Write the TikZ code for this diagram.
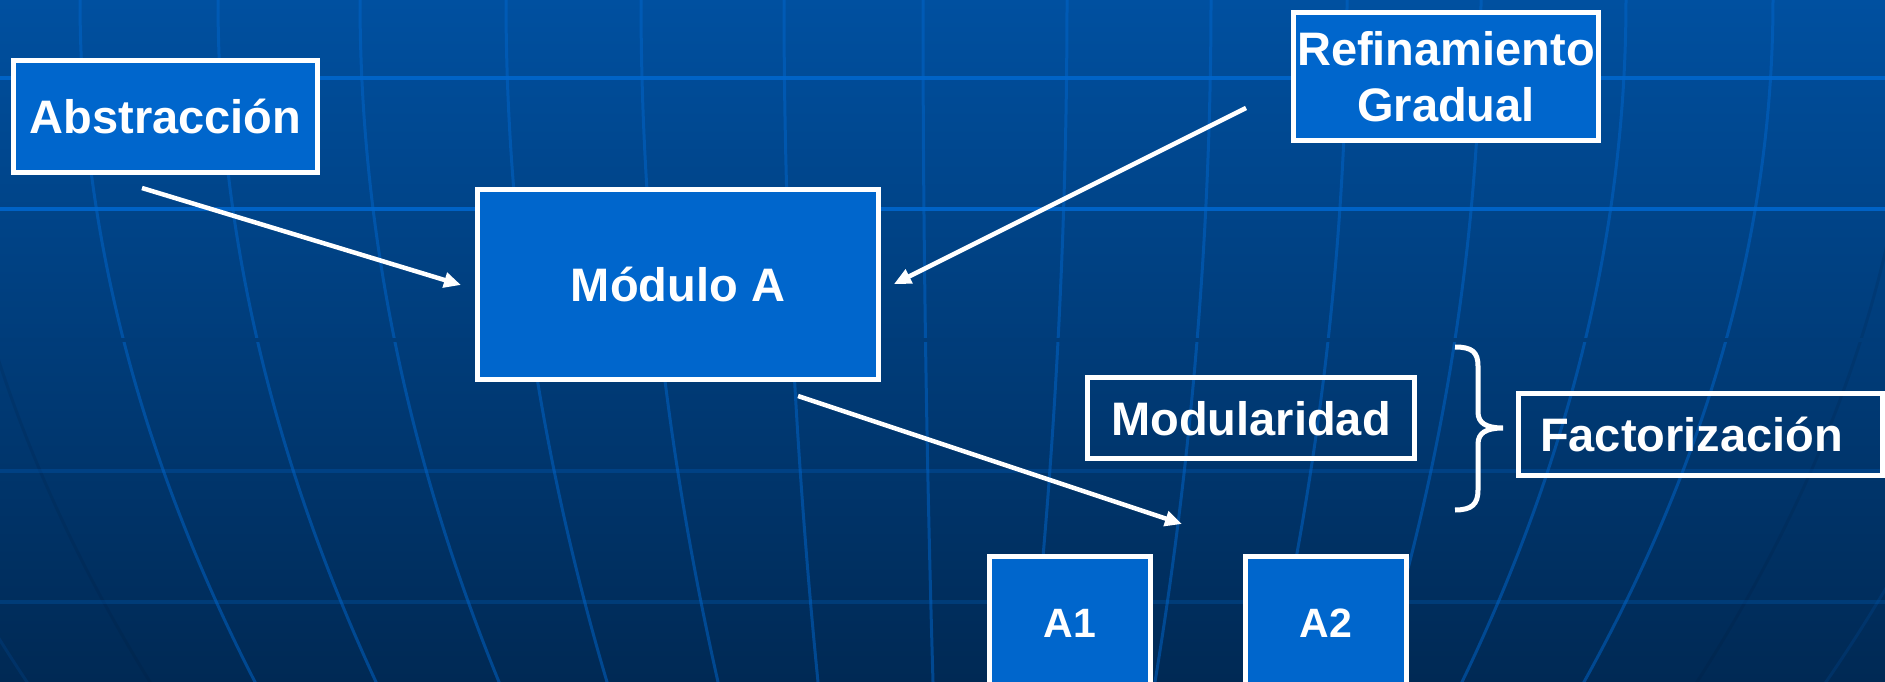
\documentclass[tikz,border=0pt]{standalone}
\usepackage{fontspec}
\setmainfont{Liberation Sans}
\usetikzlibrary{arrows.meta}

\definecolor{bgtop}{RGB}{0,80,160}
\definecolor{bgbot}{RGB}{0,41,84}
\definecolor{bgmid}{RGB}{0,60,121}
\definecolor{boxblue}{RGB}{0,102,204}
\definecolor{gridblue}{RGB}{0,102,204}
\definecolor{griddark}{RGB}{0,20,45}

\begin{document}
\begin{tikzpicture}[x=1pt,y=-1pt,
  frame/.style={draw=white, line width=5pt, rectangle, inner sep=0pt,
    text=white, font=\bfseries\fontsize{47}{56}\selectfont},
  oneline/.style={text height=34pt, text depth=0pt},
  filled/.style={fill=boxblue},
  smalltext/.style={font=\bfseries\fontsize{41}{48}\selectfont,
    text height=29pt, text depth=0pt},
  link/.style={draw=white, line width=4.5pt,
    -{Triangle[length=17pt,width=15pt]}},
  meridian/.style={draw=gridblue, draw opacity=0.5, line width=3pt},
  fadedmeridian/.style={draw=griddark, draw opacity=0.12, line width=3pt},
  paleline/.style={draw=gridblue, draw opacity=0.15, line width=3pt},
  brightrule/.style={draw=gridblue, draw opacity=0.9, line width=4pt},
  dimrule/.style={draw=gridblue, draw opacity=0.25, line width=4pt}]

\useasboundingbox (0,0) rectangle (1885,682);
\clip (0,0) rectangle (1885,682);

% backdrop
\shade[top color=bgtop, bottom color=bgbot] (0,0) rectangle (1885,682);

% curved meridian lines of the grid
\foreach \xa/\dd in {80/175, 218/158, 360/139, 506/101, 641/77, 784/34,
    923/10, 1067/-36, 1211/-56, 1347/-76, 1481/-105, 1626/-164, 1773/-189}
  \draw[meridian] plot[domain=-5:690, samples=40, smooth]
    ({\xa+\dd*(\x/682)*(\x/682)},{\x});
\foreach \xa/\dd in {-60/210, 1915/-218}
  \draw[fadedmeridian] plot[domain=-5:690, samples=40, smooth]
    ({\xa+\dd*(\x/682)*(\x/682)},{\x});
\foreach \xa/\dd in {-200/227, 2060/-234}
  \draw[paleline] plot[domain=-5:690, samples=40, smooth]
    ({\xa+\dd*(\x/682)*(\x/682)},{\x});

% horizontal rules
\draw[bgmid, line width=3.5pt] (0,340) -- (1885,340);
\draw[brightrule] (0,78) -- (1885,78);
\draw[brightrule] (0,209) -- (1885,209);
\draw[dimrule] (0,471) -- (1885,471);
\draw[dimrule] (0,602) -- (1885,602);

% boxes
\node[frame, filled, oneline, minimum width=304pt, minimum height=112pt]
  (abs) at (165.5,116.5) {Abstracción};
\node[frame, filled, oneline, minimum width=401pt, minimum height=190pt]
  (moda) at (678,284.5) {Módulo A};
\node[frame, filled, align=center, minimum width=305pt, minimum height=128pt]
  (ref) at (1446,76.5) {Refinamiento\\Gradual};
\node[frame, oneline, minimum width=327pt, minimum height=81pt]
  (mod) at (1251,418) {Modularidad};
\node[frame, oneline, minimum width=364pt, minimum height=82pt]
  (fac) at (1700.5,434.5) {Factorización\kern18pt};
\node[frame, filled, smalltext, minimum width=161pt, minimum height=132pt]
  (aone) at (1070,622.5) {A1};
\node[frame, filled, smalltext, minimum width=161pt, minimum height=132pt]
  (atwo) at (1326,622.5) {A2};

% connector ends
\coordinate (absout) at (142,188);
\coordinate (modain) at (461,285);
\coordinate (refout) at (1246,108);
\coordinate (modaright) at (894,284);
\coordinate (modaout) at (798,396);
\coordinate (subin) at (1182,524);

\draw[link] (absout) -- (modain);
\draw[link] (refout) -- (modaright);
\draw[link] (modaout) -- (subin);

% brace grouping Modularidad towards Factorización
\draw[white, line width=5pt]
  (1455,347) .. controls (1472,347) and (1478,352) .. (1478,366)
  -- (1478,412) .. controls (1478,423) and (1486,428) .. (1503,428)
  .. controls (1486,428) and (1478,433) .. (1478,444)
  -- (1478,490) .. controls (1478,504) and (1472,510) .. (1455,510);
\end{tikzpicture}
\end{document}
